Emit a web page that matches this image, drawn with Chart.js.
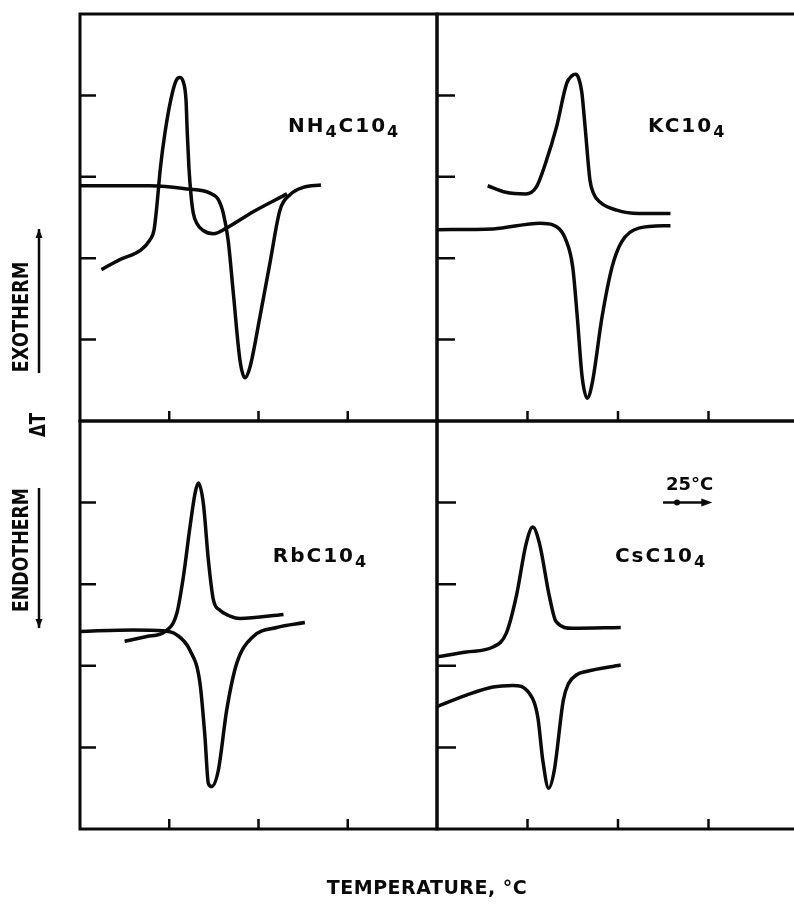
<!DOCTYPE html>
<html>
<head>
<meta charset="utf-8">
<script src="https://cdn.jsdelivr.net/npm/chart.js@4.4.1/dist/chart.umd.min.js"></script>
<style>
  html, body { margin: 0; padding: 0; background: #fff; width: 794px; height: 907px; overflow: hidden; }
  canvas.panel { position: absolute; left: 0; top: 0; }
</style>
</head>
<body>
<canvas id="nh4" class="panel" width="800" height="907"></canvas>
<canvas id="k" class="panel" width="800" height="907"></canvas>
<canvas id="rb" class="panel" width="800" height="907"></canvas>
<canvas id="cs" class="panel" width="800" height="907"></canvas>
<script>
// x: temperature units (tick every 50, so 25 units = the 25 °C bar); y: chart divisions (0-5)
const X_TICKS = [50, 100, 150];
const Y_TICKS = [1, 2, 3, 4];

// NH4ClO4
const nh4ExoX = [12, 22, 34, 39, 41.5, 43, 45, 47.6, 50.8, 53.8, 55.8, 57.8, 59.4, 60.1, 61, 62.3, 63.5, 65.4, 69, 74.7, 82, 97, 116];
const nh4ExoY = [1.86, 1.98, 2.10, 2.22, 2.35, 2.63, 3.1, 3.54, 3.94, 4.18, 4.22, 4.17, 3.94, 3.54, 3.12, 2.75, 2.55, 2.43, 2.34, 2.30, 2.37, 2.57, 2.79];
const nh4EndoX = [0, 39, 60, 72.8, 77.5, 80.3, 83, 85.9, 89.6, 92.4, 95.2, 100.8, 106.4, 112, 117.6, 125, 135];
const nh4EndoY = [2.89, 2.89, 2.85, 2.80, 2.72, 2.55, 2.22, 1.57, 0.75, 0.53, 0.66, 1.28, 1.94, 2.59, 2.78, 2.87, 2.90];

// KClO4
const kExoX = [28, 38, 49, 55, 60, 66, 71.7, 74.5, 76.5, 78.3, 80, 81.8, 84.5, 86.4, 90, 99.3, 111.5, 129];
const kExoY = [2.89, 2.81, 2.79, 2.88, 3.17, 3.61, 4.15, 4.24, 4.26, 4.21, 4.04, 3.62, 2.96, 2.80, 2.69, 2.59, 2.55, 2.55];
const kEndoX = [0, 31, 57, 64, 71.3, 75, 77.5, 80.2, 83, 85.7, 91.2, 96.7, 102, 111.5, 129];
const kEndoY = [2.35, 2.36, 2.43, 2.41, 2.22, 1.89, 1.28, 0.54, 0.28, 0.46, 1.28, 1.89, 2.20, 2.37, 2.40];

// RbClO4
const rbExoX = [25, 37.4, 47.6, 54.2, 57.9, 61.6, 64.5, 66.3, 69.1, 71.9, 74.7, 78.4, 84, 89.6, 114];
const rbExoY = [2.30, 2.36, 2.42, 2.64, 3.09, 3.70, 4.12, 4.24, 3.99, 3.30, 2.81, 2.68, 2.61, 2.58, 2.63];
const rbEndoX = [0, 30, 46.7, 54.2, 61.6, 67.2, 70, 71.9, 73.8, 77.5, 82.2, 87.8, 97.1, 110.2, 126];
const rbEndoY = [2.42, 2.44, 2.43, 2.38, 2.19, 1.79, 1.13, 0.56, 0.52, 0.72, 1.46, 2.03, 2.36, 2.47, 2.53];

// CsClO4
const csExoX = [0, 16.3, 30.9, 38.3, 43.8, 49.3, 52.9, 56.6, 62.1, 65.8, 74.9, 101.5];
const csExoY = [2.11, 2.17, 2.23, 2.40, 2.85, 3.50, 3.70, 3.50, 2.85, 2.54, 2.46, 2.47];
const csEndoX = [0, 16.3, 30.9, 41.9, 51.1, 55.7, 58.4, 61.7, 64.8, 69.8, 72.6, 77.2, 82.4, 101.5];
const csEndoY = [1.50, 1.64, 1.74, 1.76, 1.66, 1.37, 0.85, 0.50, 0.72, 1.58, 1.78, 1.89, 1.93, 2.01];

const INK = '#0a0a0a';
const FONT = '"DejaVu Sans", sans-serif';

const PANELS = [
  { id: 'nh4', box: [80, 14, 437, 421], yTick: 16, outer: true,
    series: [[nh4ExoX, nh4ExoY], [nh4EndoX, nh4EndoY]],
    label: [['NH', 0], ['4', 1], ['C10', 0], ['4', 1]], labelAt: [116.5, 3.55] },
  { id: 'k', box: [437, 14, 799, 421], yTick: 18,
    series: [[kExoX, kExoY], [kEndoX, kEndoY]],
    label: [['KC10', 0], ['4', 1]], labelAt: [116.6, 3.55] },
  { id: 'rb', box: [80, 421, 437, 829], yTick: 16,
    series: [[rbExoX, rbExoY], [rbEndoX, rbEndoY]],
    label: [['RbC10', 0], ['4', 1]], labelAt: [108, 3.27] },
  { id: 'cs', box: [437, 421, 799, 829], yTick: 19, scaleBar: true,
    series: [[csExoX, csExoY], [csEndoX, csEndoY]],
    label: [['CsC10', 0], ['4', 1]], labelAt: [98.3, 3.27] }
];

function drawFormula(ctx, parts, x, y) {
  let cx = x;
  ctx.textAlign = 'left';
  ctx.textBaseline = 'alphabetic';
  ctx.letterSpacing = '2px';
  parts.forEach(([text, sub]) => {
    ctx.font = sub ? `bold 16px ${FONT}` : `bold 20px ${FONT}`;
    ctx.fillText(text, cx, y + (sub ? 5 : 0));
    cx += ctx.measureText(text).width;
  });
  ctx.letterSpacing = '0px';
}

function vText(ctx, text, cx, cy, len) {
  ctx.save();
  ctx.translate(cx, cy);
  ctx.rotate(-Math.PI / 2);
  ctx.font = `bold 21px ${FONT}`;
  ctx.scale(len / ctx.measureText(text).width, 1);
  ctx.textAlign = 'center';
  ctx.textBaseline = 'middle';
  ctx.fillText(text, 0, 0);
  ctx.restore();
}

function vArrow(ctx, x, y0, y1) {
  const dir = Math.sign(y1 - y0);
  ctx.beginPath();
  ctx.moveTo(x, y0);
  ctx.lineTo(x, y1);
  ctx.stroke();
  ctx.beginPath();
  ctx.moveTo(x, y1);
  ctx.lineTo(x - 3.5, y1 - dir * 9);
  ctx.lineTo(x + 3.5, y1 - dir * 9);
  ctx.closePath();
  ctx.fill();
}

function drawOuter(ctx) {
  ctx.fillStyle = INK;
  ctx.strokeStyle = INK;
  ctx.lineWidth = 2.5;
  vText(ctx, 'EXOTHERM', 23, 317, 111);
  vText(ctx, 'ΔT', 40, 425, 24);
  vText(ctx, 'ENDOTHERM', 23, 550, 124);
  vArrow(ctx, 39, 373, 229);
  vArrow(ctx, 39, 488, 628);
  ctx.font = `bold 19px ${FONT}`;
  ctx.letterSpacing = '0.5px';
  ctx.textAlign = 'center';
  ctx.textBaseline = 'middle';
  ctx.fillText('TEMPERATURE, °C', 427, 889);
  ctx.letterSpacing = '0px';
}

function drawScaleBar(ctx, x, y) {
  const x0 = x.getPixelForValue(126);
  const x1 = x.getPixelForValue(151);
  ctx.font = `bold 18px ${FONT}`;
  ctx.textAlign = 'left';
  ctx.textBaseline = 'alphabetic';
  ctx.fillText('25°C', x0 + 1, y.getPixelForValue(4.15));
  const yy = y.getPixelForValue(4.0);
  ctx.lineWidth = 2.5;
  ctx.beginPath();
  ctx.moveTo(x0 - 2, yy);
  ctx.lineTo(x1 - 4, yy);
  ctx.stroke();
  ctx.beginPath();
  ctx.arc(x0 + 12, yy, 3, 0, Math.PI * 2);
  ctx.fill();
  ctx.beginPath();
  ctx.moveTo(x1 + 2, yy);
  ctx.lineTo(x1 - 9, yy - 4);
  ctx.lineTo(x1 - 9, yy + 4);
  ctx.closePath();
  ctx.fill();
}

const framePlugin = {
  id: 'frame',
  afterDraw(chart, args, opts) {
    const { ctx, chartArea: a, scales: { x, y } } = chart;
    ctx.save();
    ctx.strokeStyle = INK;
    ctx.fillStyle = INK;
    ctx.lineWidth = 3;
    ctx.strokeRect(a.left, a.top, a.right - a.left, a.bottom - a.top);
    ctx.lineWidth = 2.5;
    ctx.beginPath();
    Y_TICKS.forEach(v => {
      const py = y.getPixelForValue(v);
      ctx.moveTo(a.left, py);
      ctx.lineTo(a.left + opts.yTick, py);
    });
    X_TICKS.forEach(v => {
      const px = x.getPixelForValue(v);
      ctx.moveTo(px, a.bottom);
      ctx.lineTo(px, a.bottom - 10);
    });
    ctx.stroke();
    drawFormula(ctx, opts.label, x.getPixelForValue(opts.labelAt[0]), y.getPixelForValue(opts.labelAt[1]));
    if (opts.scaleBar) drawScaleBar(ctx, x, y);
    if (opts.outer) drawOuter(ctx);
    ctx.restore();
  }
};

PANELS.forEach(p => {
  const [l, t, r, b] = p.box;
  new Chart(document.getElementById(p.id), {
    type: 'line',
    data: {
      datasets: p.series.map(([xs, ys]) => ({
        data: xs.map((v, i) => ({ x: v, y: ys[i] })),
        borderColor: INK,
        borderWidth: 3.5,
        pointRadius: 0,
        fill: false,
        cubicInterpolationMode: 'monotone'
      }))
    },
    options: {
      responsive: false,
      animation: false,
      layout: { padding: { left: l, top: t, right: 800 - r, bottom: 907 - b } },
      scales: {
        x: { type: 'linear', min: 0, max: 200, display: false },
        y: { type: 'linear', min: 0, max: 5, display: false }
      },
      plugins: {
        legend: { display: false },
        tooltip: { enabled: false },
        frame: { yTick: p.yTick, label: p.label, labelAt: p.labelAt, scaleBar: !!p.scaleBar, outer: !!p.outer }
      }
    },
    plugins: [framePlugin]
  });
});
</script>
</body>
</html>
